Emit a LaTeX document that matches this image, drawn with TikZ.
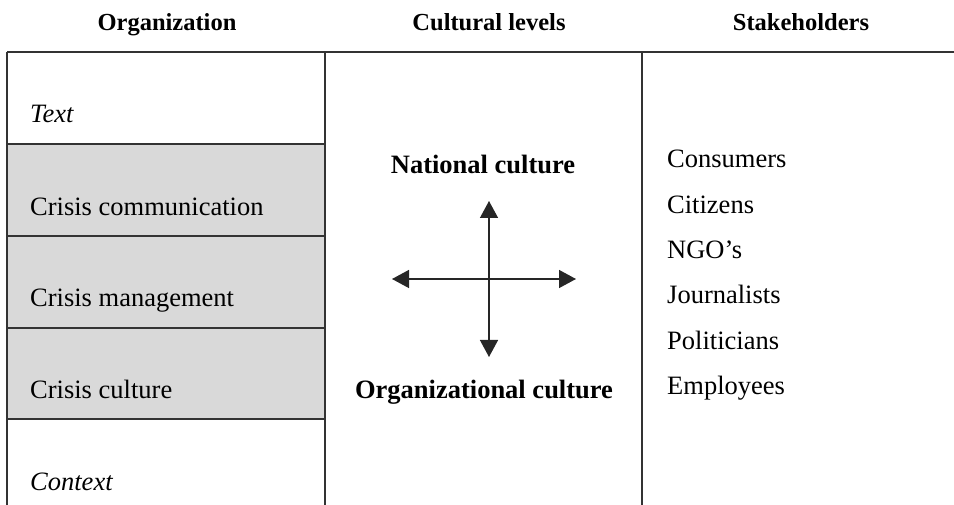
\documentclass[tikz,border=0pt]{standalone}
\usepackage{fontspec}
\setmainfont{Liberation Serif}
\usetikzlibrary{arrows.meta}
\begin{document}
\begin{tikzpicture}[x=1pt,y=-1pt,
  txt/.style={font=\fontsize{26.5}{30}\selectfont, inner sep=0pt},
  hdr/.style={font=\fontsize{24.5}{28}\selectfont\bfseries, inner sep=0pt},
  mid/.style={font=\fontsize{26.5}{30}\selectfont\bfseries, inner sep=0pt},
  rule/.style={line width=1.3pt, draw=black!80},
  arr/.style={line width=1.4pt, draw=black!85, {Triangle[length=17pt,width=18pt]}-{Triangle[length=17pt,width=18pt]}}
]
\useasboundingbox (0,0) rectangle (954,505);
% gray cells
\fill[black!15] (7,144) rectangle (325,419);
% rules
\coordinate (tl) at (7,52);
\coordinate (tr) at (954,52);
\draw[rule] (tl) -- (tr);
\draw[rule] (7,52) -- (7,505);
\draw[rule] (325,52) -- (325,505);
\draw[rule] (642,52) -- (642,505);
\foreach \yy in {144,236,328,419} \draw[rule] (7,\yy) -- (325,\yy);
% headers
\node[hdr, anchor=base] (h1) at (167,31) {Organization};
\node[hdr, anchor=base] (h2) at (489,31) {Cultural levels};
\node[hdr, anchor=base] (h3) at (801,31) {Stakeholders};
% left column
\node[txt, anchor=base west] (t1) at (30,123) {\itshape Text};
\node[txt, anchor=base west] (t2) at (30,216) {Crisis communication};
\node[txt, anchor=base west] (t3) at (30,307) {Crisis management};
\node[txt, anchor=base west] (t4) at (30,398) {Crisis culture};
\node[txt, anchor=base west] (t5) at (30,490) {\itshape Context};
% middle
\node[mid, anchor=base] (nc) at (483,174) {National culture};
\node[mid, anchor=base] (oc) at (484,399) {Organizational culture};
\coordinate (vt) at (489,201);
\coordinate (vb) at (489,357);
\coordinate (hl) at (392,279);
\coordinate (hr) at (576,279);
\draw[arr] (vt) -- (vb);
\draw[arr] (hl) -- (hr);
% stakeholders
\node[txt, anchor=base west] (s1) at (667,168) {Consumers};
\node[txt, anchor=base west] (s2) at (667,214) {Citizens};
\node[txt, anchor=base west] (s3) at (667,259) {NGO’s};
\node[txt, anchor=base west] (s4) at (667,304) {Journalists};
\node[txt, anchor=base west] (s5) at (667,349) {Politicians};
\node[txt, anchor=base west] (s6) at (667,394) {Employees};
\end{tikzpicture}
\end{document}
